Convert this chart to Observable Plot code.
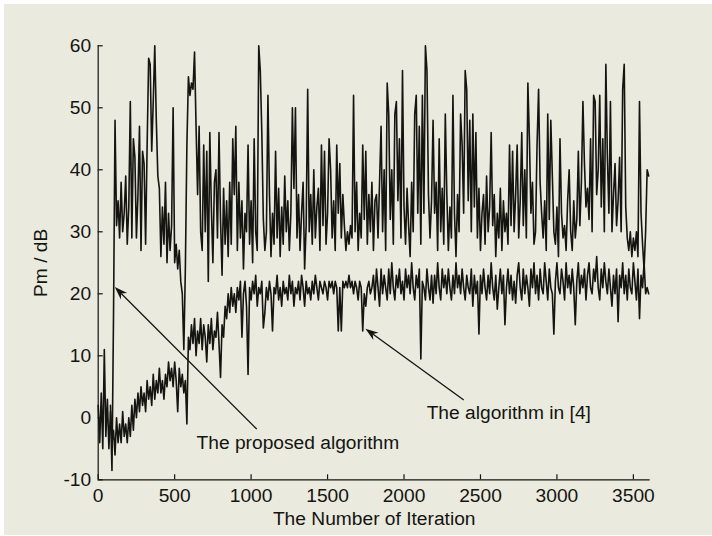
<!DOCTYPE html>
<html><head><meta charset="utf-8">
<script src="https://cdn.jsdelivr.net/npm/d3@7"></script>
<script src="https://cdn.jsdelivr.net/npm/@observablehq/plot@0.6"></script>
<style>
html,body{margin:0;padding:0;background:#ffffff;}
#chart{position:absolute;left:4px;top:4px;width:708px;height:531px;background:#eaeadf;}
</style></head><body><div id="chart"></div>
<script>
// iteration spacing of the read-off samples
const step = 10;

// "The proposed algorithm" (upper noisy curve), samples from iteration 80
const proposedStart = 80;
const proposedValues = [
  2, -8.5, 16, 48, 31, 35, 29, 38, 30, 33,
  39, 28, 34, 51, 29, 45, 42, 29, 36, 47,
  27, 43, 41, 28, 44, 58, 57, 43, 51, 60,
  48, 39, 37, 26, 34, 28, 38, 25, 33, 27,
  31, 50, 25, 28, 24, 27, 22, 20, 11, 24,
  44, 55, 52, 54, 53, 59, 47, 36, 47, 30,
  27, 44, 30, 43, 22, 46, 34, 25, 38, 40,
  29, 46, 32, 23, 37, 28, 35, 26, 38, 28,
  45, 36, 47, 27, 38, 29, 35, 24, 33, 30,
  44, 28, 35, 25, 45, 30, 27, 60, 56, 46,
  32, 27, 30, 52, 36, 26, 33, 28, 43, 29,
  37, 26, 34, 28, 39, 30, 35, 27, 33, 50,
  37, 50, 29, 36, 27, 33, 38, 24, 31, 53,
  30, 36, 28, 40, 29, 34, 37, 27, 44, 31,
  43, 28, 33, 45, 40, 29, 35, 27, 44, 33,
  41, 29, 36, 31, 27, 30, 28, 31, 29, 52,
  30, 38, 27, 33, 29, 44, 32, 43, 28, 36,
  30, 38, 27, 35, 36, 29, 38, 47, 30, 40,
  27, 54, 49, 32, 40, 28, 49, 51, 35, 45,
  29, 56, 34, 28, 37, 31, 26, 38, 30, 49,
  52, 33, 47, 28, 52, 33, 60, 56, 36, 29,
  35, 48, 33, 38, 27, 45, 30, 37, 28, 49,
  36, 27, 34, 29, 52, 33, 26, 36, 30, 49,
  44, 33, 56, 53, 35, 48, 30, 49, 34, 46,
  29, 37, 27, 33, 36, 28, 39, 30, 34, 46,
  31, 36, 26, 33, 29, 37, 27, 35, 30, 33,
  28, 44, 31, 43, 30, 36, 44, 29, 35, 46,
  31, 40, 29, 54, 45, 33, 38, 28, 30, 44,
  53, 38, 33, 29, 35, 27, 49, 32, 48, 39,
  30, 28, 34, 26, 45, 33, 29, 31, 27, 35,
  40, 30, 27, 35, 29, 32, 43, 31, 38, 51,
  41, 34, 37, 32, 45, 30, 52, 51, 36, 40,
  52, 34, 45, 30, 57, 42, 33, 51, 30, 36,
  41, 31, 35, 42, 30, 53, 57, 34, 29, 27,
  30, 26, 29, 27, 30, 26, 51, 33, 28, 24, 30, 40, 39
];

// "The algorithm in [4]" (lower curve), samples from iteration 0
const referenceStart = 0;
const referenceValues = [
  2, -4, 4, -5, 11, -3, 3, -5, 1, -4,
  -2, -6, 0, -4, -1, -4, 1, -3, -1, -4,
  0, -3, 2, -2, 3, 0, 4, 1, 5, 2,
  4, 1, 6, 3, 5, 2, 7, 3, 6, 4,
  8, 4, 6, 3, 7, 5, 9, 6, 8, 5,
  9, 6, 1, 8, 5, 7, 4, 6, -1, 13,
  11, 15, 12, 16, 10, 14, 12, 16, 11, 15,
  13, 9, 15, 12, 16, 11, 14, 13, 17, 12,
  6.5, 15, 13, 18, 16, 20, 17, 21, 18, 20,
  17, 21, 19, 22, 13, 20, 22, 18, 7, 21,
  19, 22, 20, 23, 18, 21, 20, 22, 14.5, 17,
  21, 19, 22, 20, 14, 21, 20, 23, 19, 21,
  18, 22, 20, 21, 19, 23, 20, 22, 18, 21,
  20, 22, 19, 23, 21, 18, 22, 20, 21, 19,
  22, 20, 23, 21, 19, 22, 21, 20, 22, 21,
  19, 22, 21, 22, 20, 22, 21, 14, 21, 14,
  22, 21, 22, 21, 23, 21, 22, 20, 22, 21,
  19, 22, 21, 14, 20, 18, 21, 22, 20, 21,
  23, 19, 24, 21, 18, 24, 20, 23, 21, 19,
  24, 20, 25, 21, 19, 23, 21, 24, 20, 22,
  19, 24, 21, 23, 20, 25, 21, 19, 23, 21,
  24, 9.5, 22, 21, 19, 24, 21, 19, 23, 18.5,
  23, 20, 25, 21, 19, 24, 21, 23, 20, 24,
  21, 19, 23, 20, 25, 21, 23, 20, 24, 21,
  19, 23, 21, 20, 24, 18, 23, 20, 22, 13.5,
  23, 20, 24, 21, 19, 23, 20, 25, 21, 19,
  23, 17.5, 21, 24, 20, 23, 15, 21, 24, 20,
  23, 19, 22, 18.5, 23, 25, 21, 19, 24, 20,
  23, 21, 18, 24, 21, 25, 20, 23, 19, 24,
  21, 20, 25, 22, 19, 24, 21, 20, 13.5, 22,
  25, 21, 20, 24, 22, 19, 25, 21, 23, 20,
  24, 21, 15, 22, 25, 20, 23, 21, 24, 19,
  23, 25, 21, 20, 24, 22, 26, 21, 19, 24,
  21, 25, 22, 20, 24, 21, 18, 23, 20, 24,
  15.5, 23, 21, 25, 20, 23, 19, 24, 21, 20,
  25, 22, 19, 24, 16, 23, 21, 25, 20, 21, 20
];

const xTicks = [0, 500, 1000, 1500, 2000, 2500, 3000, 3500];
const yTicks = [-10, 0, 10, 20, 30, 40, 50, 60];
const xDomain = [0, 3610];
const yDomain = [-10, 60];
const xLabel = "The Number of Iteration";
const yLabel = "Pm / dB";

// annotations: text position and arrow (tail -> tip) in data units
const annotationLabels = ["The proposed algorithm", "The algorithm in [4]"];
const annotationTextX = [643, 2148];
const annotationTextY = [-4, 0.8];
const arrowTailX = [1040, 2394];
const arrowTailY = [-1.9, 2.8];
const arrowTipX = [112, 1751];
const arrowTipY = [21, 14.3];

const proposed = proposedValues.map((v, i) => ({it: proposedStart + i * step, v}));
const reference = referenceValues.map((v, i) => ({it: referenceStart + i * step, v}));
const annotations = annotationLabels.map((label, i) => ({
  label, tx: annotationTextX[i], ty: annotationTextY[i],
  x1: arrowTailX[i], y1: arrowTailY[i], x2: arrowTipX[i], y2: arrowTipY[i]
}));

const ink = "#141410";
const plain = d => String(d);

function arrowsMark(list) {
  return (index, scales) => {
    const {x, y} = scales;
    const g = d3.create("svg:g").attr("fill", ink).attr("stroke", ink);
    for (const a of list) {
      const X1 = x(a.x1), Y1 = y(a.y1), X2 = x(a.x2), Y2 = y(a.y2);
      const ang = Math.atan2(Y2 - Y1, X2 - X1);
      const c = Math.cos(ang), s = Math.sin(ang);
      const L = 13, W = 4.5, N = 9;
      const bx = X2 - L * c, by = Y2 - L * s;
      const nx = X2 - N * c, ny = Y2 - N * s;
      g.append("line").attr("x1", X1).attr("y1", Y1).attr("x2", nx).attr("y2", ny).attr("stroke-width", 1.3);
      g.append("path").attr("stroke", "none")
        .attr("d", `M${X2},${Y2}L${bx - W * s},${by + W * c}L${nx},${ny}L${bx + W * s},${by - W * c}Z`);
    }
    return g.node();
  };
}

const chart = Plot.plot({
  width: 708,
  height: 531,
  marginLeft: 93.7,
  marginRight: 62.3,
  marginTop: 41.3,
  marginBottom: 55.7,
  style: {background: "#eaeadf", fontFamily: "'Liberation Sans', Arial, Helvetica, sans-serif", fontSize: "19.2px", color: ink},
  x: {domain: xDomain, ticks: xTicks, tickFormat: plain, tickSize: 0, tickPadding: 9, label: xLabel, labelAnchor: "center", labelOffset: 45, labelArrow: "none"},
  y: {domain: yDomain, ticks: yTicks, tickFormat: plain, tickSize: 0, tickPadding: 7, label: yLabel, labelAnchor: "center", labelOffset: 65, labelArrow: "none"},
  marks: [
    Plot.line(reference, {x: "it", y: "v", stroke: ink, strokeWidth: 1.6}),
    Plot.line(proposed, {x: "it", y: "v", stroke: ink, strokeWidth: 1.6}),
    Plot.ruleX([xDomain[0]], {stroke: ink, strokeWidth: 1.2}),
    Plot.ruleY([yDomain[0]], {stroke: ink, strokeWidth: 1.2}),
    Plot.ruleX(xTicks, {x: d => d, y1: yDomain[0], y2: yDomain[0], insetTop: -5, stroke: ink, strokeWidth: 1.2}),
    Plot.ruleY(yTicks, {y: d => d, x1: xDomain[0], x2: xDomain[0], insetRight: -5, stroke: ink, strokeWidth: 1.2}),
    arrowsMark(annotations),
    Plot.text(annotations, {x: "tx", y: "ty", text: "label", textAnchor: "start", fill: ink, fontSize: 19.2})
  ]
});
document.getElementById("chart").appendChild(chart);
</script>
</body></html>
